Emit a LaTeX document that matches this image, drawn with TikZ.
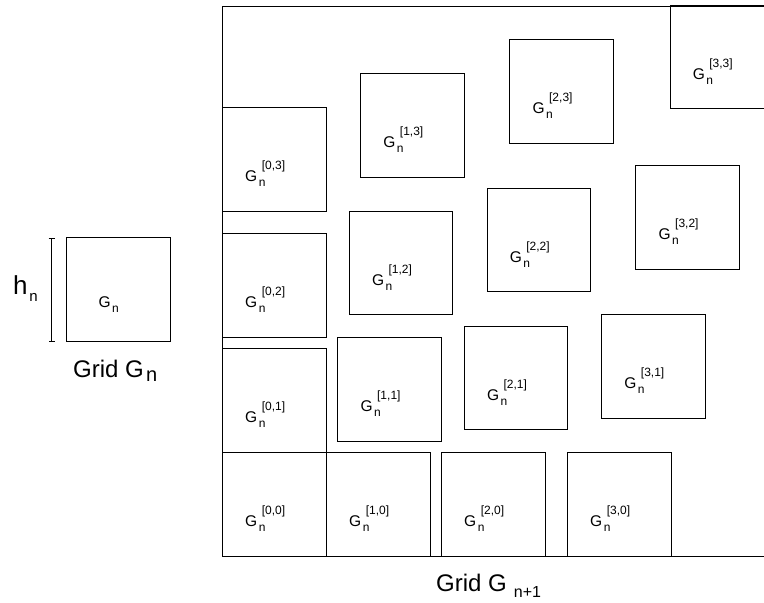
\documentclass[tikz,border=0pt]{standalone}
\usepackage{fontspec}
\setmainfont{Liberation Sans}
\usepackage{tikz}
\usetikzlibrary{calc,arrows.meta}

% text with a lowered / raised small part
\newcommand{\lowtxt}[3]{\raisebox{-#2}{\fontsize{#1}{#1}\selectfont #3}}
\newcommand{\hightxt}[3]{\raisebox{#2}{\fontsize{#1}{#1}\selectfont #3}}
\newcommand{\sublab}[2]{G\hspace{1.5bp}\rlap{\lowtxt{12bp}{5bp}{n}}\hspace{3bp}\hightxt{12bp}{12bp}{[#1,#2]}}

\tikzset{
    gridbox/.style={draw, line width=1bp, minimum size=103.5bp, inner sep=0pt, anchor=south west},
    boxlabel/.style={inner sep=0pt, anchor=base west, font=\fontsize{15.5bp}{18bp}\selectfont},
    biglabel/.style={inner sep=0pt, anchor=base west, font=\fontsize{24bp}{28bp}\selectfont}
}

\begin{document}
\begin{tikzpicture}[x=1bp,y=1bp]
        \useasboundingbox (0,0) rectangle (764,603);

        % Grid G_n on its own
        \node[gridbox] (gn) at (66,261.3) {};
        \node[boxlabel] (gnlab) at (98.3,295) {G\hspace{1.5bp}\lowtxt{12bp}{5bp}{n}};
        \node[biglabel] (gncap) at (73,225.3) {Grid G\hspace{2.3bp}\lowtxt{20bp}{4bp}{n}};

        % height of the grid
        \coordinate (htop) at (51.7,365);
        \coordinate (hbot) at (51.7,261);
        \draw[line width=1bp, {Bar[width=6bp]}-{Bar[width=6bp]}] (htop) -- (hbot);
        \node[biglabel, font=\fontsize{26bp}{30bp}\selectfont] (hlab) at (13,308) {h\hspace{1.6bp}\lowtxt{15bp}{6.7bp}{n}};

        % Grid G_{n+1}
        \draw[line width=1bp] (222,46) rectangle (790,596);
        \node[biglabel] (gncap2) at (436,11) {Grid G\hspace{7bp}\lowtxt{16bp}{6bp}{n+1}};

        % the sub grids, pushed apart
        \foreach \i in {0,...,3}{
            \foreach \j in {0,...,3}{
                \pgfmathsetmacro{\bx}{222+104*\i+5.5*\i*(\i-1)+11.4*\i*\j}
                \pgfmathsetmacro{\by}{46+104*\j+5.5*\j*(\j-1)+11.4*\i*\j}
                \node[gridbox] (g\i\j) at (\bx,\by) {};
                \node[boxlabel] (l\i\j) at ($(g\i\j.south west)+(23,30)$) {\sublab{\i}{\j}};
            }
        }
\end{tikzpicture}
\end{document}
